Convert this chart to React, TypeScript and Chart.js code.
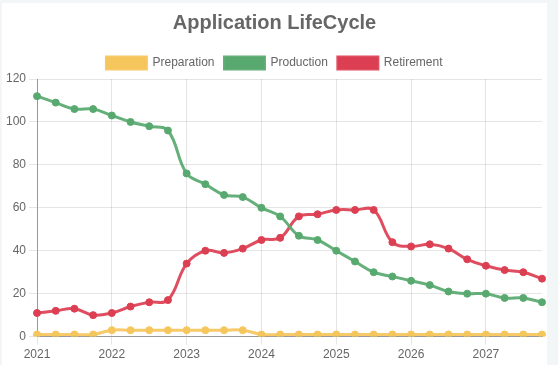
import React, { useEffect, useRef } from "react";
import { Chart, registerables } from "chart.js";

Chart.register(...registerables);

const years = ["2021", "2022", "2023", "2024", "2025", "2026", "2027"];
const quarters = ["Q1", "Q2", "Q3", "Q4"];
const categories: string[] = years.flatMap((y) => quarters.map((q) => `${y} ${q}`));

const preparation = [1, 1, 1, 1, 3, 3, 3, 3, 3, 3, 3, 3, 1, 1, 1, 1, 1, 1, 1, 1, 1, 1, 1, 1, 1, 1, 1, 1];
const production = [112, 109, 106, 106, 103, 100, 98, 96, 76, 71, 66, 65, 60, 56, 47, 45, 40, 35, 30, 28, 26, 24, 21, 20, 20, 18, 18, 16];
const retirement = [11, 12, 13, 10, 11, 14, 16, 17, 34, 40, 39, 41, 45, 46, 56, 57, 59, 59, 59, 44, 42, 43, 41, 36, 33, 31, 30, 27];

const yTicks = [0, 20, 40, 60, 80, 100, 120];

const COLORS = {
  prep: ["#f5c65b", "rgba(245,198,91,0.92)"],
  prod: ["#58a96f", "rgba(88,169,111,0.92)"],
  ret: ["#dc3f52", "rgba(220,63,82,0.92)"],
};

const FONT = "'Liberation Sans', Arial, sans-serif";

export default function App() {
  const ref = useRef<HTMLCanvasElement | null>(null);

  useEffect(() => {
    document.body.style.margin = "0";
    document.body.style.background = "#f3f6f7";
    if (!ref.current) return;
    const mk = (label: string, data: number[], c: string[]) => ({
      label,
      data,
      backgroundColor: c[0],
      borderColor: c[1],
      pointBackgroundColor: c[0],
      pointBorderColor: c[0],
      borderWidth: 3,
      pointRadius: 3.5,
      pointBorderWidth: 1,
      tension: 0.4,
      fill: false,
    });
    const chart = new Chart(ref.current, {
      type: "line",
      data: {
        labels: categories,
        datasets: [
          mk("Preparation", preparation, COLORS.prep),
          mk("Production", production, COLORS.prod),
          mk("Retirement", retirement, COLORS.ret),
        ],
      },
      options: {
        animation: false,
        responsive: false,
        maintainAspectRatio: false,
        layout: { padding: { left: 1, right: 1, top: 0, bottom: 0 } },
        font: { family: FONT },
        plugins: {
          title: {
            display: true,
            text: "Application LifeCycle",
            color: "#666",
            padding: { top: 8, bottom: 12 },
            font: { size: 20, weight: "bold", family: FONT },
          },
          legend: {
            labels: {
              color: "#666",
              font: { size: 12, family: FONT },
            },
          },
          tooltip: { enabled: false },
        },
        scales: {
          x: {
            type: "category",
            offset: false,
            grid: { color: "rgba(0,0,0,0.1)" },
            border: { color: "#999" },
            ticks: {
              autoSkip: false,
              maxRotation: 0,
              color: "#666",
              font: { size: 12, family: FONT },
              callback: (_v: any, i: number) => {
                const lab = categories[i];
                return lab.endsWith("Q1") ? lab.slice(0, 4) : null;
              },
            },
          },
          y: {
            min: yTicks[0],
            max: yTicks[yTicks.length - 1],
            grid: { color: "rgba(0,0,0,0.1)" },
            border: { color: "#999" },
            ticks: {
              stepSize: 20,
              color: "#666",
              font: { size: 12, family: FONT },
            },
          },
        },
      },
    });
    return () => chart.destroy();
  }, []);

  return (
    <div
      style={{
        position: "absolute",
        left: 2,
        top: 3,
        width: 545,
        height: 362,
        background: "#fff",
      }}
    >
      <canvas ref={ref} width={545} height={362} style={{ display: "block" }} />
    </div>
  );
}
